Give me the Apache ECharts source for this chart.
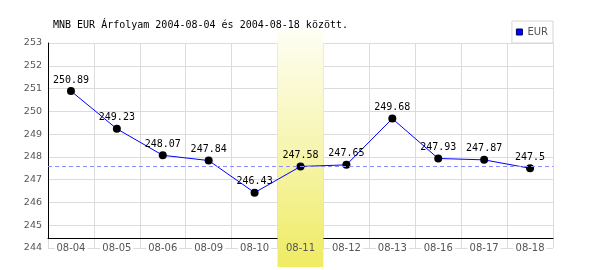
<!DOCTYPE html>
<html><head><meta charset="utf-8">
<script src="https://cdn.jsdelivr.net/npm/echarts@6/dist/echarts.min.js"></script>
<style>html,body{margin:0;padding:0;background:#fff}#c{width:600px;height:270px}</style>
</head><body><div id="c"></div>
<script>
const titleText = 'MNB EUR Árfolyam 2004-08-04 és 2004-08-18 között.';
const seriesName = 'EUR';
const categories = ['08-04','08-05','08-06','08-09','08-10','08-11','08-12','08-13','08-16','08-17','08-18'];
const values = [250.89, 249.23, 248.07, 247.84, 246.43, 247.58, 247.65, 249.68, 247.93, 247.87, 247.5];
const highlightDate = '08-11';
const yMin = 244, yMax = 253, yStep = 1;

const refValue = values[categories.indexOf(highlightDate)];
const bandData = categories.map(c => c === highlightDate ? 1 : null);

const chart = echarts.init(document.getElementById('c'), null, {renderer: 'canvas'});
const grey = '#dcdcdc';
const sans = 'DejaVu Sans';
const mono = 'DejaVu Sans Mono';
chart.setOption({
  animation: false,
  backgroundColor: '#fff',
  title: {text: titleText, left: 53, top: 20, padding: 0,
    textStyle: {fontFamily: mono, fontSize: 10, fontWeight: 'normal', color: '#000'}},
  legend: {
    data: [{name: seriesName, itemStyle: {color: '#0000ff', borderColor: '#000066', borderWidth: 1}}],
    right: 47, top: 21, padding: [6, 5, 6, 4], icon: 'rect', itemWidth: 6, itemHeight: 6,
    borderColor: '#d6d6d6', borderWidth: 1, backgroundColor: '#fff',
    textStyle: {fontFamily: sans, fontSize: 10, color: '#555'}, selectedMode: false
  },
  grid: [
    {left: 48, right: 47, top: 43, bottom: 22},
    {left: 48, right: 47, top: 43, bottom: 32},
    {left: 48, right: 47, top: 30, bottom: 3}
  ],
  xAxis: [
    {type: 'category', gridIndex: 0, data: categories, position: 'bottom', z: 0,
      axisLine: {show: false}, axisTick: {show: false}, axisLabel: {show: false},
      splitLine: {show: true, interval: 0, lineStyle: {color: grey, width: 1}}},
    {type: 'category', gridIndex: 0, data: categories, position: 'bottom', z: 4,
      axisLine: {show: false}, axisTick: {show: false}, splitLine: {show: false},
      axisLabel: {show: true, interval: 0, margin: -6, color: '#555', fontFamily: sans, fontSize: 10,
        formatter: v => v === highlightDate ? '{h|' + v + '}' : '{n|' + v + '}',
        rich: {
          n: {backgroundColor: '#fff', padding: [1, 2, 1, 2], color: '#555', fontFamily: sans, fontSize: 10},
          h: {padding: [1, 2, 1, 2], color: '#555', fontFamily: sans, fontSize: 10}
        }}},
    {type: 'category', gridIndex: 1, data: categories, z: 0.5,
      axisLine: {show: true, lineStyle: {color: '#000', width: 1}}, axisTick: {show: false},
      axisLabel: {show: false}, splitLine: {show: false}},
    {type: 'category', gridIndex: 2, data: categories, show: false}
  ],
  yAxis: [
    {type: 'value', gridIndex: 0, min: yMin, max: yMax, interval: yStep, z: 0,
      axisLine: {show: false}, axisTick: {show: false},
      axisLabel: {color: '#555', fontFamily: sans, fontSize: 9.5, margin: 6},
      splitLine: {show: true, lineStyle: {color: grey, width: 1}}},
    {type: 'value', gridIndex: 1, min: 0, max: 1, z: 0.5, position: 'left',
      axisLine: {show: true, onZero: false, lineStyle: {color: '#000', width: 1}}, axisTick: {show: false},
      axisLabel: {show: false}, splitLine: {show: false}},
    {type: 'value', gridIndex: 2, min: 0, max: 1, show: false}
  ],
  series: [
    {type: 'bar', xAxisIndex: 3, yAxisIndex: 2, data: bandData, barWidth: '100%', z: 1, silent: true,
      itemStyle: {color: new echarts.graphic.LinearGradient(0, 0, 0, 1, [
        {offset: 0, color: '#fefef4'}, {offset: 0.5, color: '#f7f5b0'}, {offset: 1, color: '#efeb62'}])}},
    {type: 'line', name: 'ref', xAxisIndex: 0, yAxisIndex: 0, data: values, z: 0, silent: true,
      showSymbol: false, lineStyle: {opacity: 0},
      markLine: {silent: true, symbol: 'none', label: {show: false},
        lineStyle: {color: '#8c8cff', type: [4, 3], width: 1}, data: [{yAxis: refValue}]}},
    {type: 'line', name: seriesName, xAxisIndex: 0, yAxisIndex: 0, data: values, z: 3,
      symbol: 'circle', symbolSize: 8,
      lineStyle: {color: '#0000ff', width: 1},
      itemStyle: {color: '#000'},
      label: {show: true, position: 'top', distance: 2, color: '#000', fontFamily: mono, fontSize: 10}}
  ]
});
</script></body></html>
